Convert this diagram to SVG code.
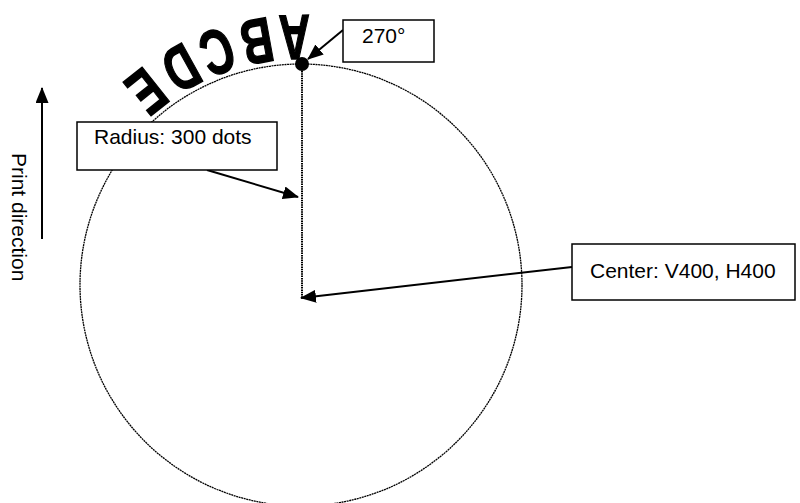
<svg xmlns="http://www.w3.org/2000/svg" width="800" height="503" viewBox="0 0 800 503">
<style>
  .lbl { font-family: "Liberation Sans", Arial, sans-serif; font-size: 21px; fill: #000; }
  .box { fill: #fff; stroke: #000; stroke-width: 1.5; }
  .arrow { stroke: #000; stroke-width: 2; fill: none; marker-end: url(#ah); }
  .arc { font-family: "Liberation Sans", Arial, sans-serif; font-size: 52px; font-weight: bold; fill: #000; stroke: #000; stroke-width: 1.2; text-anchor: middle; }
</style>
<defs>
  <marker id="ah" markerUnits="userSpaceOnUse" markerWidth="16" markerHeight="13" refX="15" refY="6.5" orient="auto">
    <path d="M0,0 L16,6.5 L0,13 Z" fill="#000"/>
  </marker>
</defs>
<rect width="800" height="503" fill="#fff"/>

<g id="circle">
  <circle cx="301" cy="285" r="221" fill="none" stroke="#000" stroke-width="1.3" stroke-dasharray="2 0.6"/>
  <line x1="302" y1="64" x2="302" y2="298" stroke="#000" stroke-width="2" stroke-dasharray="1.5 0.8"/>
  <circle cx="302" cy="64" r="7" fill="#000"/>
</g>

<g id="arc-text">
  <text class="arc" transform="translate(294.0,15.5) rotate(178.5) scale(0.84,1.22)">A</text>
  <text class="arc" transform="translate(253.1,19.7) rotate(169.7) scale(0.84,1.22)">B</text>
  <text class="arc" transform="translate(210.0,31.2) rotate(160.2) scale(0.84,1.22)">C</text>
  <text class="arc" transform="translate(170.4,49.2) rotate(151) scale(0.84,1.22)">D</text>
  <text class="arc" transform="translate(133.2,74.3) rotate(141.5) scale(0.84,1.22)">E</text>
</g>

<g id="connectors">
  <line class="arrow" x1="343" y1="30" x2="308" y2="59"/>
  <line class="arrow" x1="207" y1="170" x2="298" y2="197"/>
  <line class="arrow" x1="572" y1="267" x2="301" y2="298"/>
  <line class="arrow" x1="42" y1="239" x2="42" y2="88"/>
</g>

<g id="node-270">
  <rect class="box" x="343" y="20" width="91" height="42"/>
  <text class="lbl" x="362" y="43">270°</text>
</g>

<g id="node-radius">
  <rect class="box" x="77" y="122" width="200" height="48"/>
  <text class="lbl" x="94" y="144">Radius: 300 dots</text>
</g>

<g id="node-center">
  <rect class="box" x="572" y="244" width="223" height="56"/>
  <text class="lbl" x="590" y="278">Center: V400, H400</text>
</g>

<g id="print-direction">
  <text class="lbl" transform="translate(12,153) rotate(90)">Print direction</text>
</g>
</svg>
